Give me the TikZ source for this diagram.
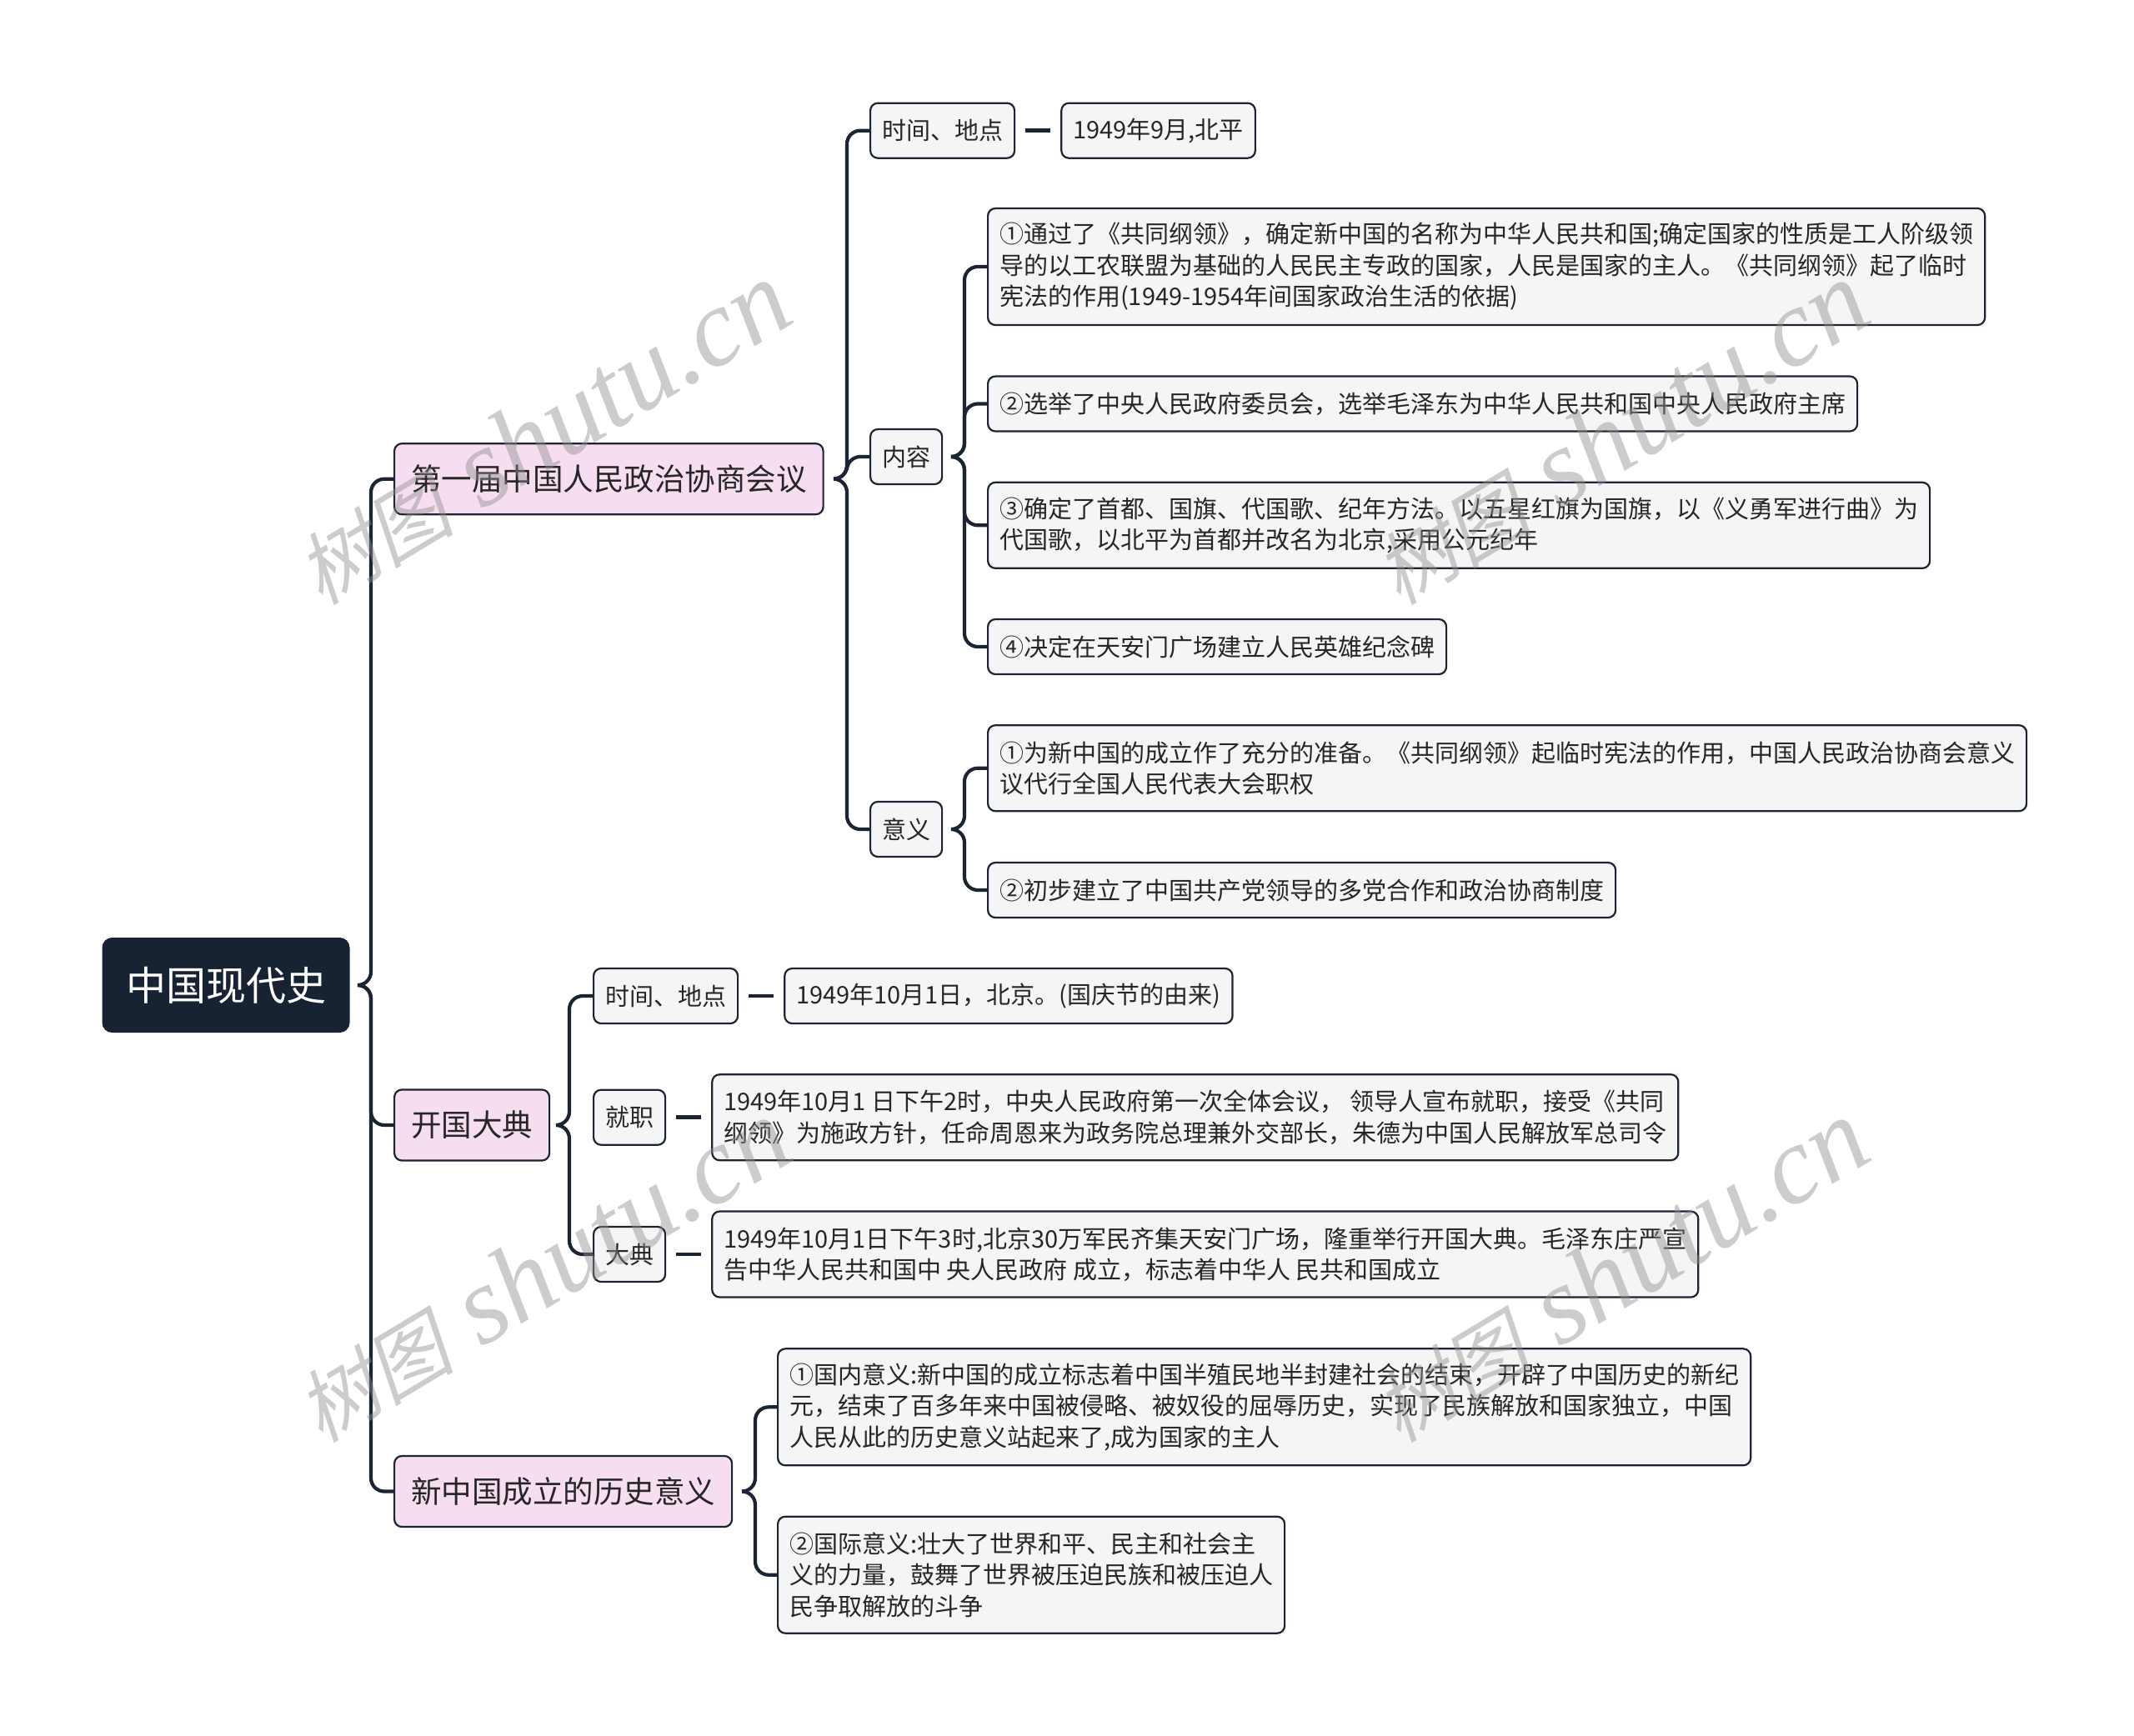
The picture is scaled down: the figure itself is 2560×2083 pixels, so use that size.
\documentclass[tikz,border=0pt]{standalone}
\usepackage{fontspec}
\setmainfont{Noto Sans CJK SC}
\newfontfamily\wmlatin{Liberation Serif}
\newfontfamily\wmcjk[FakeSlant=0.22]{Noto Sans CJK SC}
\definecolor{ink}{HTML}{1B2433}
\definecolor{rootfill}{HTML}{172232}
\definecolor{pinkfill}{HTML}{F6DEF0}
\definecolor{greyfill}{HTML}{F5F5F5}
\definecolor{txt}{HTML}{262626}
\definecolor{wmgray}{HTML}{8F8F8F}
\begin{document}
\begin{tikzpicture}[x=1pt,y=-1pt,
  rootbox/.style={fill=rootfill, rounded corners=12pt, text=white,
    font=\fontsize{48}{56}\selectfont, minimum width=297pt, minimum height=114pt, inner sep=0pt},
  lvlone/.style={draw=ink, line width=2.2pt, fill=pinkfill, rounded corners=9pt, text=txt,
    font=\fontsize{36.5}{44}\selectfont, minimum height=85pt, inner xsep=20pt, inner ysep=0pt, anchor=west},
  itembox/.style={draw=ink, line width=2.2pt, fill=greyfill, rounded corners=9pt, text=txt,
    font=\fontsize{29}{37.5}\selectfont, minimum height=66pt, inner xsep=14pt, inner ysep=0pt,
    align=left, anchor=west},
  twoline/.style={itembox, minimum height=103pt},
  threeline/.style={itembox, minimum height=140pt},
  link/.style={draw=ink, line width=4.2pt, rounded corners=16pt},
  dashlink/.style={draw=ink, line width=4.5pt, shorten <=12pt, shorten >=12pt},
  wmark/.style={text=wmgray, text opacity=0.45, rotate=31, inner sep=0pt}
]
\fill[white] (0,0) rectangle (2560,2083);
\useasboundingbox (0,0) rectangle (2560,2083);

% root and first level
\node[rootbox] (root) at (271,1182) {中国现代史};
\node[lvlone] (a) at (472,574.7) {第一届中国人民政治协商会议};
\node[lvlone] (b) at (472,1350) {开国大典};
\node[lvlone] (c) at (472,1789.5) {新中国成立的历史意义};

% branch a
\node[itembox] (a1) at (1043,156.7) {时间、地点};
\node[itembox] (a1t) at ([xshift=54pt]a1.east) {1949年9月,北平};
\node[itembox] (a2) at (1043,548) {内容};
\node[itembox] (a3) at (1043,995) {意义};

\node[threeline] (a21) at (1184,320) {①通过了《共同纲领》，确定新中国的名称为中华人民共和国;确定国家的性质是工人阶级领\\导的以工农联盟为基础的人民民主专政的国家，人民是国家的主人。《共同纲领》起了临时\\宪法的作用(1949-1954年间国家政治生活的依据)};
\node[itembox] (a22) at (1184,484.5) {②选举了中央人民政府委员会，选举毛泽东为中华人民共和国中央人民政府主席};
\node[twoline] (a23) at (1184,630.3) {③确定了首都、国旗、代国歌、纪年方法。以五星红旗为国旗，以《义勇军进行曲》为\\代国歌，以北平为首都并改名为北京,采用公元纪年};
\node[itembox] (a24) at (1184,776) {④决定在天安门广场建立人民英雄纪念碑};

\node[twoline] (a31) at (1184,921.7) {①为新中国的成立作了充分的准备。《共同纲领》起临时宪法的作用，中国人民政治协商会意义\\议代行全国人民代表大会职权};
\node[itembox] (a32) at (1184,1068) {②初步建立了中国共产党领导的多党合作和政治协商制度};

% branch b
\node[itembox] (b1) at (711,1195) {时间、地点};
\node[itembox] (b1t) at ([xshift=54pt]b1.east) {1949年10月1日，北京。(国庆节的由来)};
\node[itembox] (b2) at (711,1340.7) {就职};
\node[twoline] (b2t) at ([xshift=54pt]b2.east) {1949年10月1 日下午2时，中央人民政府第一次全体会议， 领导人宣布就职，接受《共同\\纲领》为施政方针，任命周恩来为政务院总理兼外交部长，朱德为中国人民解放军总司令};
\node[itembox] (b3) at (711,1505) {大典};
\node[twoline] (b3t) at ([xshift=54pt]b3.east) {1949年10月1日下午3时,北京30万军民齐集天安门广场，隆重举行开国大典。毛泽东庄严宣\\告中华人民共和国中 央人民政府 成立，标志着中华人 民共和国成立};

% branch c
\node[threeline] (c1) at (932,1688.3) {①国内意义:新中国的成立标志着中国半殖民地半封建社会的结束，开辟了中国历史的新纪\\元，结束了百多年来中国被侵略、被奴役的屈辱历史，实现了民族解放和国家独立，中国\\人民从此的历史意义站起来了,成为国家的主人};
\node[threeline] (c2) at (932,1889.7) {②国际意义:壮大了世界和平、民主和社会主\\义的力量，鼓舞了世界被压迫民族和被压迫人\\民争取解放的斗争};

% brace coordinates
\coordinate (rtip) at (429,1182);  \coordinate (rx) at (445,0);
\coordinate (atip) at (1000,574.7); \coordinate (ax) at (1016,0);
\coordinate (a2tip) at (1141,548); \coordinate (a2x) at (1157,0);
\coordinate (a3tip) at (1141,995); \coordinate (a3x) at (1157,0);
\coordinate (btip) at (667,1350);  \coordinate (bx) at (683,0);
\coordinate (ctip) at (890,1789.5); \coordinate (cx) at (906,0);

% connectors
\foreach \ch in {a,b,c} \draw[link] (rtip) -| (rx |- \ch.west) -- (\ch.west);
\foreach \ch in {a1,a2,a3} \draw[link] (atip) -| (ax |- \ch.west) -- (\ch.west);
\foreach \ch in {a21,a22,a23,a24} \draw[link] (a2tip) -| (a2x |- \ch.west) -- (\ch.west);
\foreach \ch in {a31,a32} \draw[link] (a3tip) -| (a3x |- \ch.west) -- (\ch.west);
\foreach \ch in {b1,b3} \draw[link] (btip) -| (bx |- \ch.west) -- (\ch.west);
\foreach \ch in {c1,c2} \draw[link] (ctip) -| (cx |- \ch.west) -- (\ch.west);

\draw[dashlink] (a1.east) -- (a1t.west);
\draw[dashlink] (b1.east) -- (b1t.west);
\draw[dashlink] (b2.east) -- (b2t.west);
\draw[dashlink] (b3.east) -- (b3t.west);

% watermarks
\foreach \p [count=\i] in {(650,520),(1943,520),(650,1525),(1943,1525)}
  \node[wmark] (wm\i) at \p {{\wmcjk\fontsize{95}{100}\selectfont 树图}\hspace{34pt}{\wmlatin\itshape\fontsize{132}{140}\selectfont shutu.cn}};
\end{tikzpicture}
\end{document}
